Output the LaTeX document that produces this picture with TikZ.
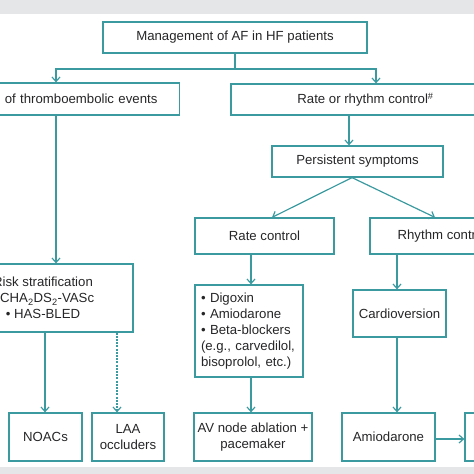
\documentclass[tikz,border=0pt]{standalone}
\usepackage{fontspec}
\setmainfont{Liberation Sans}
\usetikzlibrary{arrows.meta}
\definecolor{tealc}{RGB}{58,154,160}
\definecolor{txtc}{RGB}{38,38,40}
\definecolor{bandc}{RGB}{229,230,232}
\tikzset{
  box/.style={draw=tealc, line width=1.2pt, text=txtc, align=center, inner sep=0pt,
    font=\fontsize{13.2}{16}\selectfont},
  conn/.style={draw=tealc, line width=1.2pt},
  arr/.style={conn, -{Straight Barb[length=4.5pt,width=8pt]}},
  dotarr/.style={arr, dash pattern=on 2pt off 1.2pt},
}
\begin{document}
\begin{tikzpicture}[x=1pt,y=-1pt]
\useasboundingbox (0,0) rectangle (474,474);
\clip (0,0) rectangle (474,474);
\fill[bandc] (0,0) rectangle (474,14);
\fill[bandc] (0,467) rectangle (474,474);

% nodes
\node[box, minimum width=264pt, minimum height=31pt] (mgmt) at (235,37.5) {Management of AF in HF patients};
\node[box, anchor=east, text width=236pt, align=right, inner xsep=22pt, minimum height=32pt] (thr) at (180,99) {of thromboembolic events};
\node[box, minimum width=269pt, minimum height=31pt] (rr) at (365.5,99.5) {Rate or rhythm control\textsuperscript{\#}};
\node[box, minimum width=171pt, minimum height=31pt] (pers) at (357.5,161.5) {Persistent symptoms};
\node[box, minimum width=139pt, minimum height=36pt] (ratec) at (264.5,236) {Rate control};
\node[box, minimum width=144pt, minimum height=36pt] (rhyc) at (442,236) {Rhythm control};
\node[box, minimum width=180pt, minimum height=68pt] (risk) at (43,298) {Risk stratification\\ \textbullet\ CHA\textsubscript{2}DS\textsubscript{2}-VASc\\ \textbullet\ HAS-BLED};
\node[box, minimum width=108pt, minimum height=92pt, text width=96pt, align=left, inner xsep=6pt] (drugs) at (249,331) {\textbullet\ Digoxin\\ \textbullet\ Amiodarone\\ \textbullet\ Beta-blockers\\ (e.g., carvedilol,\\ bisoprolol, etc.)};
\node[box, minimum width=93pt, minimum height=47pt] (cardio) at (399.5,313.5) {Cardioversion};
\node[box, minimum width=73pt, minimum height=48pt] (noac) at (45.5,437) {NOACs};
\node[box, minimum width=72pt, minimum height=48pt] (laa) at (128,437) {LAA\\ occluders};
\node[box, minimum width=118pt, minimum height=48pt] (av) at (253,437) {AV node ablation +\\ pacemaker};
\node[box, minimum width=93pt, minimum height=48pt] (amio) at (388.5,437) {Amiodarone};
\node[box, minimum width=55pt, minimum height=48pt] (next) at (492.5,437) {};

% helper coordinates (x positions of connectors)
\coordinate (j) at (235,69);
\coordinate (xa) at (56,0);
\coordinate (xb) at (376,0);
\coordinate (xc) at (349,0);
\coordinate (xd) at (352,0);
\coordinate (xe) at (272,0);
\coordinate (xf) at (435,0);
\coordinate (xg) at (45,0);
\coordinate (xh) at (117,0);
\coordinate (xi) at (251,0);
\coordinate (xk) at (397,0);

% connectors
\draw[conn] (mgmt.south) -- (j);
\draw[arr] (j) -| (thr.north -| xa);
\draw[arr] (j) -| (rr.north -| xb);
\draw[arr] (rr.south -| xc) -- (pers.north -| xc);
\draw[arr] (pers.south -| xd) -- (ratec.north -| xe);
\draw[arr] (pers.south -| xd) -- (rhyc.north -| xf);
\draw[arr] (thr.south -| xa) -- (risk.north -| xa);
\draw[arr] (risk.south -| xg) -- (noac.north -| xg);
\draw[dotarr] (risk.south -| xh) -- (laa.north -| xh);
\draw[arr] (ratec.south -| xi) -- (drugs.north -| xi);
\draw[arr] (drugs.south -| xi) -- (av.north -| xi);
\draw[arr] (rhyc.south -| xk) -- (cardio.north -| xk);
\draw[arr] (cardio.south -| xk) -- (amio.north -| xk);
\draw[arr] ([yshift=-2pt]amio.east) -- ([yshift=-2pt]next.west);
\end{tikzpicture}
\end{document}
